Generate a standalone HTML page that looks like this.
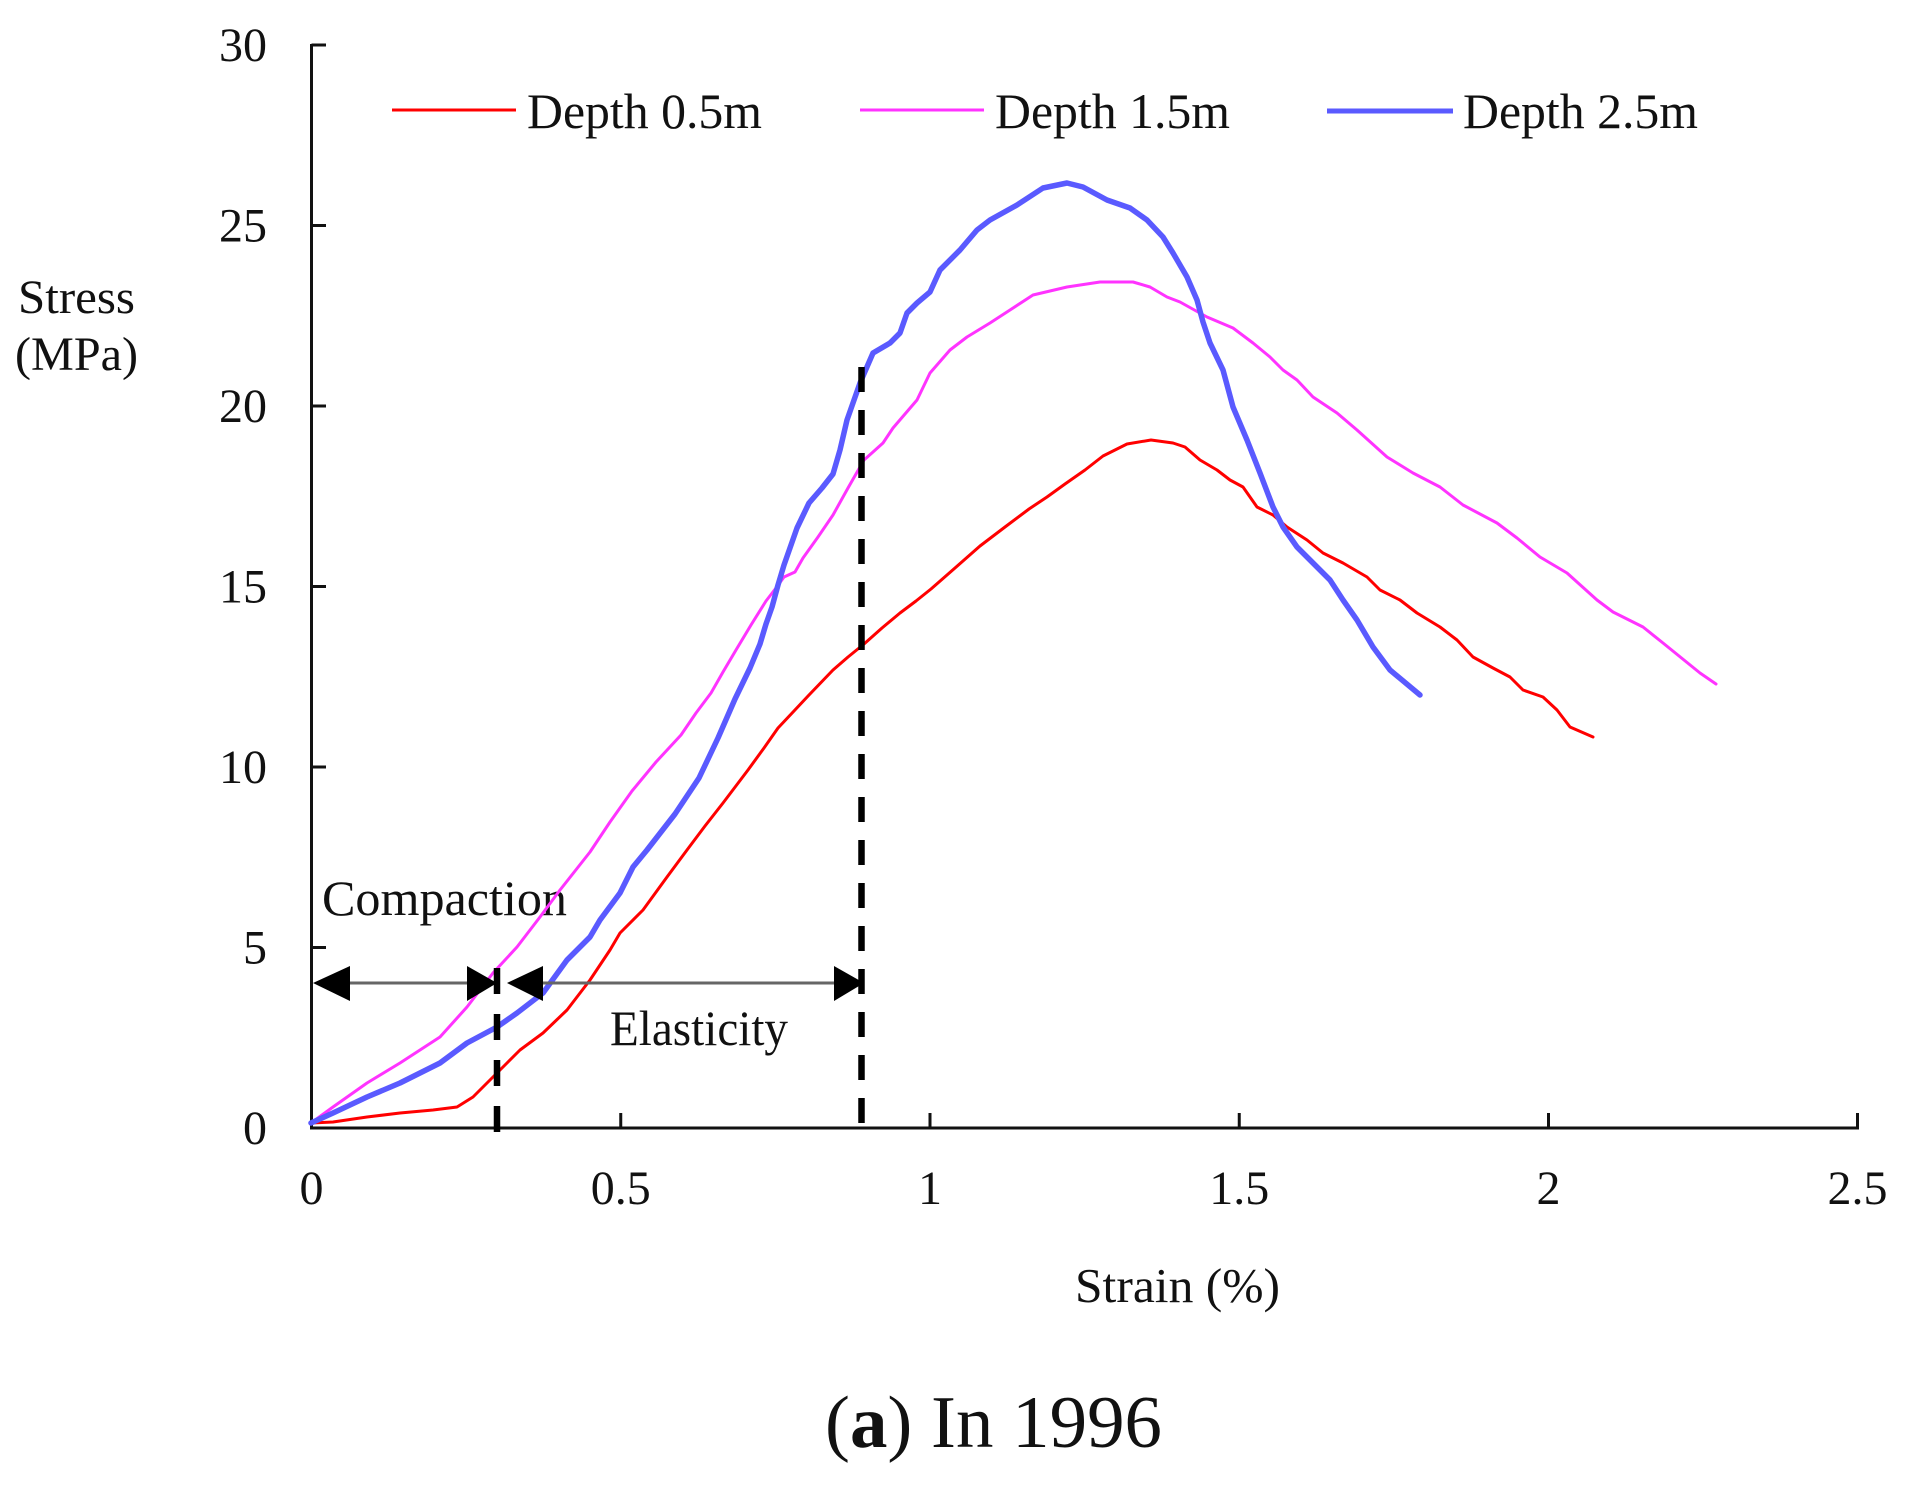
<!DOCTYPE html>
<html><head><meta charset="utf-8"><style>
html,body{margin:0;padding:0;background:#fff;}
svg{display:block;}
text{font-family:"Liberation Serif","Times New Roman",serif;fill:#111;}
</style></head><body>
<svg width="1919" height="1487" viewBox="0 0 1919 1487" xmlns="http://www.w3.org/2000/svg">
<rect width="1919" height="1487" fill="#fff"/>
<!-- axes -->
<g stroke="#111" stroke-width="3" fill="none">
<line x1="311.5" y1="44" x2="311.5" y2="1129.5"/>
<line x1="310" y1="1128" x2="1859" y2="1128"/>
<line x1="311.5" y1="45" x2="326" y2="45"/>
<line x1="311.5" y1="225.5" x2="326" y2="225.5"/>
<line x1="311.5" y1="406" x2="326" y2="406"/>
<line x1="311.5" y1="586.5" x2="326" y2="586.5"/>
<line x1="311.5" y1="767" x2="326" y2="767"/>
<line x1="311.5" y1="947.5" x2="326" y2="947.5"/>
<line x1="620.75" y1="1128" x2="620.75" y2="1113"/>
<line x1="930" y1="1128" x2="930" y2="1113"/>
<line x1="1239.25" y1="1128" x2="1239.25" y2="1113"/>
<line x1="1548.5" y1="1128" x2="1548.5" y2="1113"/>
<line x1="1857.5" y1="1129" x2="1857.5" y2="1113"/>
</g>
<!-- y tick labels -->
<g font-size="48" text-anchor="end">
<text x="267" y="61">30</text>
<text x="267" y="241.5">25</text>
<text x="267" y="422">20</text>
<text x="267" y="602.5">15</text>
<text x="267" y="783">10</text>
<text x="267" y="963.5">5</text>
<text x="267" y="1144">0</text>
</g>
<!-- x tick labels -->
<g font-size="48" text-anchor="middle">
<text x="311.5" y="1204">0</text>
<text x="620.75" y="1204">0.5</text>
<text x="930" y="1204">1</text>
<text x="1239.25" y="1204">1.5</text>
<text x="1548.5" y="1204">2</text>
<text x="1857.5" y="1204">2.5</text>
</g>
<!-- axis titles -->
<text x="18" y="313" font-size="48" textLength="117" lengthAdjust="spacingAndGlyphs">Stress</text>
<text x="15" y="370" font-size="48" textLength="123" lengthAdjust="spacingAndGlyphs">(MPa)</text>
<text x="1075" y="1302" font-size="49" textLength="205" lengthAdjust="spacingAndGlyphs">Strain (%)</text>
<!-- legend -->
<line x1="392" y1="110" x2="516" y2="110" stroke="#ff0000" stroke-width="3"/>
<text x="527" y="128" font-size="50" textLength="235" lengthAdjust="spacingAndGlyphs">Depth 0.5m</text>
<line x1="860" y1="110" x2="984" y2="110" stroke="#ff33ff" stroke-width="3"/>
<text x="995" y="128" font-size="50" textLength="235" lengthAdjust="spacingAndGlyphs">Depth 1.5m</text>
<line x1="1327" y1="111" x2="1453" y2="111" stroke="#5a5aff" stroke-width="5"/>
<text x="1463" y="128" font-size="50" textLength="235" lengthAdjust="spacingAndGlyphs">Depth 2.5m</text>
<!-- annotations -->
<text x="322" y="915" font-size="50" textLength="245" lengthAdjust="spacingAndGlyphs">Compaction</text>
<text x="610" y="1045" font-size="50" textLength="178" lengthAdjust="spacingAndGlyphs">Elasticity</text>
<!-- curves -->
<g fill="none" stroke-linejoin="round" stroke-linecap="round">
<polyline stroke="#ff0000" stroke-width="3" points="311,1123 333,1122 367,1117 400,1113 433,1110 457,1107 473,1097 487,1083 497,1073 507,1063 520,1050 543,1033 567,1010 590,980 610,950 620,933 643,910 667,877 687,850 705,826 723,803 748,770 764,748 778,728 794,711 809,695 833,670 848,657 864,644 882,628 900,613 916,601 931,589 955,568 980,546 1005,527 1029,509 1047,497 1065,484 1085,470 1103,456 1127,444 1151,440 1173,443 1185,447 1200,460 1217,470 1230,480 1243,487 1257,507 1273,515 1287,527 1307,540 1323,553 1343,563 1367,577 1380,590 1400,600 1417,613 1440,627 1457,640 1473,657 1493,668 1510,677 1523,690 1543,697 1557,710 1570,727 1593,737"/>
<polyline stroke="#ff33ff" stroke-width="3" points="311,1123 333,1107 367,1083 400,1063 440,1037 467,1007 493,973 517,947 540,917 560,890 590,852 610,822 632,791 656,762 681,735 696,713 711,693 723,672 736,650 751,625 766,601 776,588 784,577 795,572 803,558 818,537 833,515 848,488 864,460 873,452 883,443 893,428 917,400 930,373 950,350 967,337 990,323 1010,310 1033,295 1067,287 1100,282 1133,282 1150,287 1167,297 1180,302 1207,317 1233,328 1253,343 1270,357 1283,370 1297,380 1313,397 1337,413 1357,430 1387,457 1413,473 1440,487 1463,505 1497,523 1517,538 1540,557 1567,573 1597,600 1613,612 1643,627 1663,643 1700,673 1716,684"/>
<polyline stroke="#5a5aff" stroke-width="5.5" points="311,1123 333,1113 367,1097 400,1083 440,1063 467,1043 497,1027 517,1013 543,993 567,960 590,937 600,920 620,893 633,867 647,850 675,814 699,778 718,738 735,699 750,668 760,644 766,624 772,607 778,585 784,565 797,528 809,503 822,488 833,474 840,450 847,420 860,383 873,353 890,343 900,333 907,313 917,303 930,292 940,270 960,250 977,230 990,220 1017,205 1043,188 1067,183 1083,187 1107,200 1130,208 1147,220 1163,237 1173,253 1187,277 1197,300 1203,322 1210,343 1223,370 1233,407 1247,440 1260,473 1273,507 1283,527 1297,547 1313,563 1330,580 1343,600 1357,620 1373,647 1390,670 1420,695"/>
</g>
<!-- dashed lines -->
<line x1="497" y1="968" x2="497" y2="1132" stroke="#000" stroke-width="6.5" stroke-dasharray="26 20"/>
<line x1="861.5" y1="367" x2="861.5" y2="1130" stroke="#000" stroke-width="6.5" stroke-dasharray="25 18"/>
<!-- arrows -->
<line x1="330" y1="983" x2="480" y2="983" stroke="#666" stroke-width="3"/>
<line x1="525" y1="983" x2="850" y2="983" stroke="#666" stroke-width="3"/>
<g fill="#000">
<polygon points="313,983 350,966 350,1001"/>
<polygon points="497,983 467,966 467,1001"/>
<polygon points="507,983 543,966 543,1001"/>
<polygon points="864,983 834,966 834,1001"/>
</g>
<!-- caption -->
<text x="825" y="1447" font-size="74" textLength="337" lengthAdjust="spacingAndGlyphs">(<tspan font-weight="bold">a</tspan>) In 1996</text>
</svg>
</body></html>
